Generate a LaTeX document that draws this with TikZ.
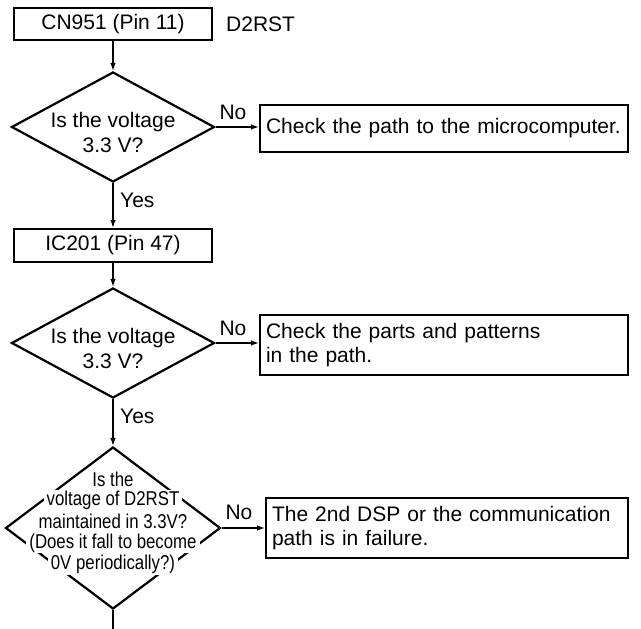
\documentclass[tikz,border=0pt]{standalone}
\usepackage{fontspec}
\setmainfont{Liberation Sans}
\newfontfamily\narrowfont[FakeStretch=0.84]{Liberation Sans}
\usetikzlibrary{shapes.geometric,arrows.meta}
\begin{document}
\begin{tikzpicture}[x=1pt,y=-1pt,
  every node/.style={font=\fontsize{21}{24}\selectfont},
  box/.style={draw, line width=2.2pt, inner sep=0pt},
  tbox/.style={draw, line width=2.2pt, inner xsep=6pt, inner ysep=0pt, align=left},
  dia/.style={draw, diamond, line width=2.2pt, inner sep=0pt},
  dtext/.style={align=center, inner sep=0pt, font=\fontsize{21}{25}\selectfont},
  conn/.style={line width=1.2pt},
  arr/.style={conn, -{Latex[length=8pt,width=5.5pt]}},
  lbl/.style={inner sep=0pt},
  nl/.style={font=\narrowfont\fontsize{20}{21}\selectfont, fill=white, inner xsep=3pt, inner ysep=1pt}
]
\useasboundingbox (0,0) rectangle (641,629);

\node[box, minimum width=198pt, minimum height=32pt] (cn) at (113,24) {CN951 (Pin 11)};
\node[lbl, anchor=west] (d2) at (226,24) {D2RST};

\node[dia, minimum width=203pt, minimum height=110pt] (q1) at (113,127) {};
\node[dtext] (q1t) at (113,132) {Is the voltage\\3.3 V?};
\node[tbox, text width=356pt, minimum height=47pt] (b1) at (444,128.5) {Check the path to the microcomputer.};
\node[lbl] (no1) at (233,112) {No};
\node[lbl, anchor=west] (yes1) at (120,200) {Yes};

\node[box, minimum width=198pt, minimum height=33pt] (ic) at (113,245.5) {IC201 (Pin 47)};

\node[dia, minimum width=203pt, minimum height=110pt] (q2) at (113,343) {};
\node[dtext] (q2t) at (113,348) {Is the voltage\\3.3 V?};
\node[tbox, text width=356pt, minimum height=60pt] (b2) at (444,345) {Check the parts and patterns\\in the path.};
\node[lbl] (no2) at (233,328) {No};
\node[lbl, anchor=west] (yes2) at (120,416) {Yes};

\node[dia, minimum width=215pt, minimum height=162pt] (q3) at (113,528) {};
\node[nl] (q3a) at (113,479) {Is the};
\node[nl] (q3b) at (113,500.5) {voltage of D2RST};
\node[nl] (q3c) at (113,521.5) {maintained in 3.3V?};
\node[nl] (q3d) at (113,543) {(Does it fall to become};
\node[nl] (q3e) at (113,564.5) {0V periodically?)};
\node[tbox, text width=350pt, minimum height=60pt] (b3) at (447,528) {The 2nd DSP or the communication\\path is in failure.};
\node[lbl] (no3) at (239,512) {No};
\coordinate (end) at (113,629);

\draw[arr] (cn.south) -- (q1.north);
\draw[arr] (q1.east) -- (q1.east -| b1.west);
\draw[arr] (q1.south) -- (ic.north);
\draw[arr] (ic.south) -- (q2.north);
\draw[arr] (q2.east) -- (q2.east -| b2.west);
\draw[arr] (q2.south) -- (q3.north);
\draw[arr] (q3.east) -- (q3.east -| b3.west);
\draw[conn] (q3.south) -- (end);
\end{tikzpicture}
\end{document}
